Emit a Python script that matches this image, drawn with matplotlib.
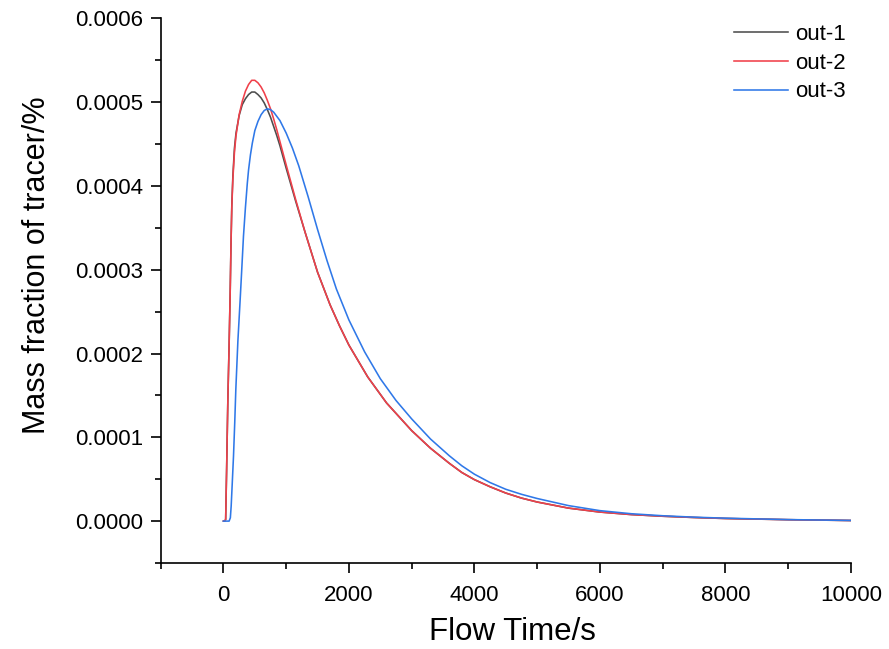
import matplotlib
matplotlib.use("Agg")
import matplotlib.pyplot as plt
from matplotlib.ticker import MultipleLocator, FormatStrFormatter

plt.rcParams['font.family'] = ['Liberation Sans', 'DejaVu Sans']

# ---- data ----
t_out1 = [0, 20, 35, 50, 70, 90, 107, 120, 133, 150, 175, 200, 250, 300, 350, 400, 450,
          500, 550, 600, 650, 700, 750, 800, 850, 900, 1000, 1150, 1300, 1500, 1700, 1850,
          2000, 2300, 2600, 3000, 3300, 3600, 3800, 4000, 4250, 4500, 4750, 5000, 5500,
          6000, 6500, 7000, 7500, 8000, 9000, 10000]
out1 = [0, 0, 0.000002, 0.00006, 0.000145, 0.00021, 0.000272, 0.00033, 0.000377, 0.000412,
        0.000445, 0.000463, 0.000484, 0.000497, 0.000504, 0.000509, 0.000512,
        0.000512, 0.000509, 0.000505, 0.000499, 0.000491, 0.000482, 0.000471, 0.000460,
        0.000448, 0.000421, 0.000382, 0.000345, 0.000297, 0.000258, 0.000233,
        0.000210, 0.000172, 0.000141, 0.000108, 0.000087, 0.000069, 0.000058, 0.0000495,
        0.000041, 0.0000335, 0.0000275, 0.0000228, 0.0000155, 0.0000108, 0.0000078,
        0.0000058, 0.0000043, 0.0000031, 0.0000017, 0.0000007]
t_out2 = [0, 20, 35, 50, 70, 90, 107, 120, 133, 150, 175, 200, 250, 300, 350, 400, 450,
          500, 550, 600, 650, 700, 750, 800, 850, 900, 1000, 1150, 1300, 1500, 1700, 1850,
          2000, 2300, 2600, 3000, 3300, 3600, 3800, 4000, 4250, 4500, 4750, 5000, 5500,
          6000, 6500, 7000, 7500, 8000, 9000, 10000]
out2 = [0, 0, 0.000002, 0.00006, 0.000145, 0.00021, 0.000272, 0.00033, 0.000375, 0.000408,
        0.000440, 0.000460, 0.000485, 0.000501, 0.000513, 0.000521, 0.000526,
        0.000526, 0.000523, 0.000518, 0.000511, 0.000502, 0.000492, 0.000480, 0.000467,
        0.000453, 0.000425, 0.000384, 0.000345, 0.000297, 0.000258, 0.000233,
        0.000210, 0.000172, 0.000141, 0.000108, 0.000087, 0.000069, 0.000058, 0.0000495,
        0.000041, 0.0000335, 0.0000275, 0.0000228, 0.0000155, 0.0000108, 0.0000078,
        0.0000058, 0.0000043, 0.0000031, 0.0000017, 0.0000007]
t_out3 = [0, 50, 90, 110, 123, 140, 160, 180, 197, 230, 266, 290, 319, 350, 380, 400, 430,
          460, 500, 550, 600, 650, 700, 750, 800, 900, 1000, 1100, 1200, 1350, 1500, 1650,
          1800, 2000, 2250, 2500, 2750, 3000, 3300, 3600, 3800, 4000, 4250, 4500, 4750,
          5000, 5500, 6000, 6500, 7000, 7500, 8000, 9000, 10000]
out3 = [0, 0, 0, 0.000004, 0.000018, 0.000045, 0.0000775, 0.000118, 0.000157, 0.000215,
        0.000264, 0.000298, 0.000340, 0.000374, 0.000403, 0.000419, 0.000437,
        0.000451, 0.000466, 0.000477, 0.000485, 0.000490, 0.000492, 0.000491, 0.000488,
        0.000478, 0.000463, 0.000445, 0.000424, 0.000387, 0.000348, 0.000311,
        0.000277, 0.000240, 0.000202, 0.000170, 0.000144, 0.000122, 0.000098, 0.000078,
        0.000066, 0.000056, 0.000046, 0.000038, 0.000032, 0.000027, 0.0000185, 0.0000125,
        0.0000088, 0.0000064, 0.0000047, 0.0000035, 0.0000018, 0.0000008]
labels = ['out-1', 'out-2', 'out-3']
colors = ['#4d4d4d', '#f0404a', '#2f78e8']

fig = plt.figure(figsize=(8.89, 6.49), dpi=100)
ax = fig.add_axes([0.1808, 0.1325, 0.7762, 0.8393])

ax.plot(t_out1, out1, color=colors[0], lw=1.15, label=labels[0])
ax.plot(t_out2, out2, color=colors[1], lw=1.15, label=labels[1])
ax.plot(t_out3, out3, color=colors[2], lw=1.15, label=labels[2])

ax.set_xlim(-1000, 10000)
ax.set_ylim(-0.00005, 0.0006)
ax.xaxis.set_major_locator(MultipleLocator(2000))
ax.xaxis.set_minor_locator(MultipleLocator(1000))
ax.yaxis.set_major_locator(MultipleLocator(0.0001))
ax.yaxis.set_minor_locator(MultipleLocator(0.00005))
ax.yaxis.set_major_formatter(FormatStrFormatter('%.4f'))

for s in ['top', 'right']:
    ax.spines[s].set_visible(False)
for s in ['left', 'bottom']:
    ax.spines[s].set_linewidth(1.2)
ax.tick_params(which='major', length=7.5, width=1.2, labelsize=16)
ax.tick_params(which='minor', length=4, width=1.2)
ax.tick_params(axis='x', which='major', pad=8)
ax.tick_params(axis='y', which='major', pad=5)

ax.set_xlabel('Flow Time/s', fontsize=22.5, labelpad=8)
ax.set_ylabel('Mass fraction of tracer/%', fontsize=22, labelpad=17)
ax.xaxis.label.set_x(0.51)
ax.yaxis.label.set_y(0.547)

leg = ax.legend(loc='upper right', bbox_to_anchor=(0.993, 0.99), frameon=False,
                fontsize=16, handlelength=2.45, handletextpad=0.32, labelspacing=0.35,
                borderpad=0, borderaxespad=0)

fig.savefig('out.png', dpi=100)
